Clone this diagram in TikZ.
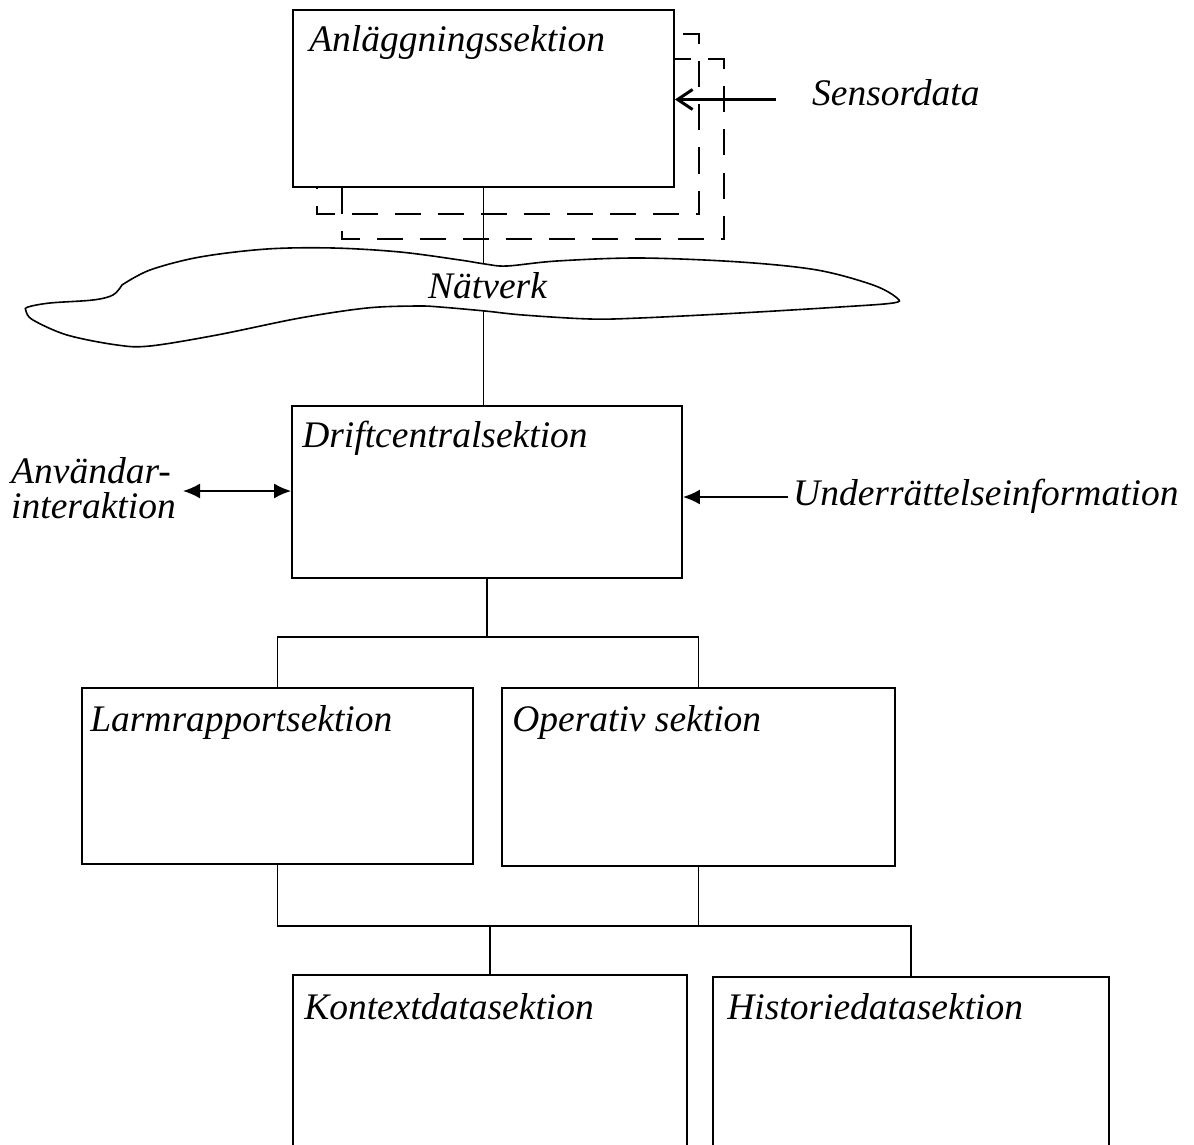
\documentclass[tikz,border=0pt]{standalone}
\usepackage{fontspec}
\setmainfont{Liberation Serif}
\usetikzlibrary{arrows.meta,calc,backgrounds}
\begin{document}
\begin{tikzpicture}[x=1pt,y=-1pt,
  section/.style={draw, line width=1.8pt, fill=white, rectangle, inner sep=0pt},
  title/.style={anchor=base west, inner sep=0pt, font=\itshape\fontsize{37.5}{35}\selectfont},
  wire/.style={line width=1.8pt},
  dashbox/.style={line width=1.8pt, dash pattern=on 26pt off 17pt},
  solidhead/.style={-{Latex[length=17pt,width=15pt]}},
  bothheads/.style={{Latex[length=17pt,width=15pt]}-{Latex[length=17pt,width=15pt]}},
  openhead/.style={line width=3.5pt, -{Straight Barb[length=15pt,width=20pt,line width=3pt]}}]

\useasboundingbox (0,0) rectangle (1194,1145);

% section boxes
\node[section, minimum width=381, minimum height=177] (anl)     at (483.5,98.5) {};
\node[section, minimum width=390, minimum height=172] (drift)   at (487,492)    {};
\node[section, minimum width=391, minimum height=176] (larm)    at (277.5,776)  {};
\node[section, minimum width=393, minimum height=178] (oper)    at (698.5,777)  {};
\node[section, minimum width=394, minimum height=185] (kontext) at (490,1067.5) {};
\node[section, minimum width=396, minimum height=183] (hist)    at (911,1068.5) {};

% page and the stacked dashed frames behind the plant section
\begin{scope}[on background layer]
  \fill[white] (0,0) rectangle (1194,1145);
  \draw[dashbox] ($(anl.north west)+(25,25)$) rectangle ($(anl.south east)+(24,26)$);
  \draw[dashbox] ($(anl.north west)+(50,50)$) rectangle ($(anl.south east)+(49,51)$);
\end{scope}

% box titles
\node[title] (anl-t)     at ($(anl.north west)+(17,42)$)     {Anläggningssektion};
\node[title] (drift-t)   at ($(drift.north west)+(11,42)$)   {Driftcentralsektion};
\node[title] (larm-t)    at ($(larm.north west)+(9,44)$)     {Larmrapportsektion};
\node[title] (oper-t)    at ($(oper.north west)+(11,44)$)    {Operativ sektion};
\node[title] (kontext-t) at ($(kontext.north west)+(12,45)$) {Kontextdatasektion};
\node[title] (hist-t)    at ($(hist.north west)+(15,43)$)    {Historiedatasektion};

% link from the plant section down to the control centre
\draw[wire] (anl.south) -- (anl.south |- drift.north);

% network cloud over the link
\draw[line width=1.6pt, fill=white] plot[smooth, tension=0.55] coordinates {
  (122,285) (150,270) (200,257) (267,249) (333,248) (400,252) (460,260)
  (485,264) (507,266) (557,261) (640,258) (740,262) (817,270) (873,285)
  (897,298) (893,303) (840,307) (740,313) (640,318) (590,319) (523,315)
  (485,311) (440,307) (417,306) (367,308) (300,318) (217,335) (150,346)
  (117,345) (67,335) (33,320) (26,311) (28,307) (50,303) (93,300)
  (113,295) (122,285)} -- cycle;
\node[title] (net) at (428,298) {Nätverk};

% sensor input
\node[title] (sens) at (812,106) {Sensordata};
\coordinate (sens-in) at (776,99.5);
\draw[openhead] (sens-in) -- (sens-in -| anl.east);

% user interaction
\node[title, anchor=west, align=left] (user) at (11,488.5) {Användar-\\interaktion};
\coordinate (user-out) at (183,491);
\draw[wire, bothheads] (user-out) -- (user-out -| drift.west);

% intelligence input
\node[title] (under) at (793,505) {Underrättelseinformation};
\coordinate (under-in) at (788,497);
\draw[wire, solidhead] (under-in) -- (under-in -| drift.east);

% tree below the control centre
\coordinate (split) at ($(drift.south)+(0,58)$);
\draw[wire] (drift.south) -- (split);
\draw[wire] (larm.north) |- (oper.north |- split) -- (oper.north);

\coordinate (merge) at (0,926);
\draw[wire] (larm.south) |- (hist.north |- merge) -- (hist.north);
\draw[wire] (oper.south) -- (oper.south |- merge);
\draw[wire] (kontext.north |- merge) -- (kontext.north);
\end{tikzpicture}
\end{document}
